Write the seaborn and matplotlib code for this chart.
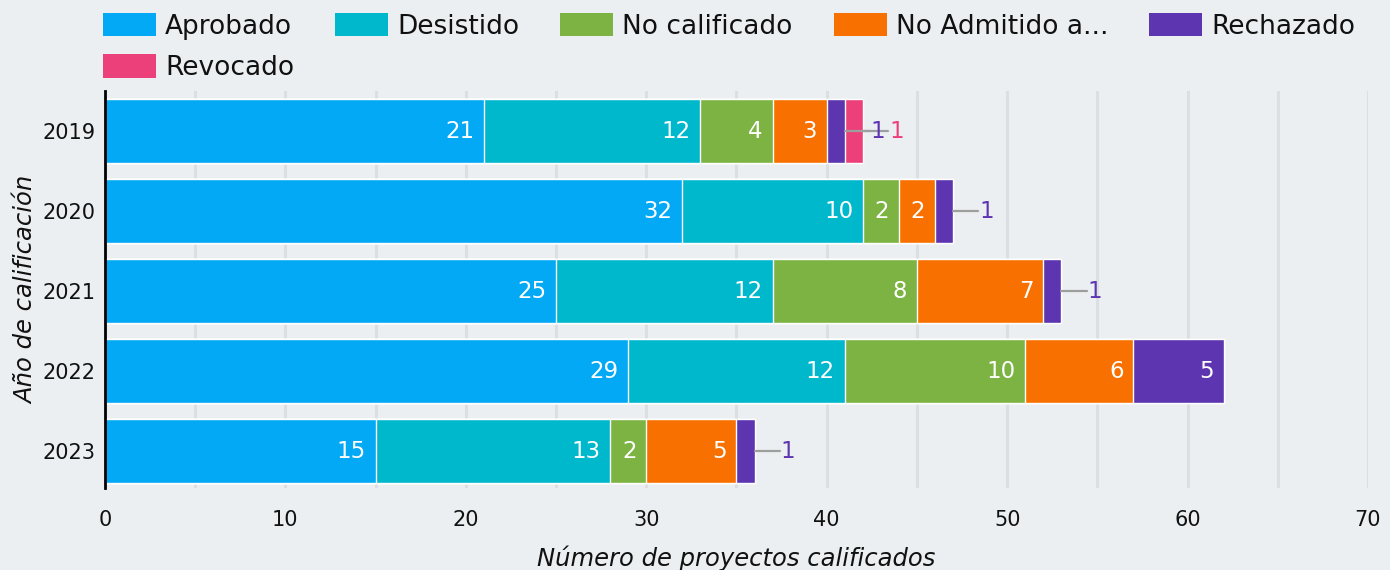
import matplotlib
matplotlib.use("Agg")
import matplotlib.pyplot as plt
from matplotlib.patches import Patch
from matplotlib.ticker import MultipleLocator
import pandas as pd
import seaborn as sns

# datos
years = ["2019", "2020", "2021", "2022", "2023"]
estados = ["Aprobado", "Desistido", "No calificado", "No Admitido a...", "Rechazado", "Revocado"]
aprobado = [21, 32, 25, 29, 15]
desistido = [12, 10, 12, 12, 13]
no_calificado = [4, 2, 8, 10, 2]
no_admitido = [3, 2, 7, 6, 5]
rechazado = [1, 1, 1, 5, 1]
revocado = [1, 0, 0, 0, 0]
colores = ["#03a9f4", "#00b8cc", "#7cb342", "#f77000", "#5e35b1", "#ec407a"]

BG = "#eceff1"
GRID = "#dcdfe2"
TXT = "#111111"
W, H = 1390, 570

sns.set_theme(style="white")
plt.rcParams["font.family"] = ["DejaVu Sans"]

df = pd.DataFrame(dict(zip(estados, [aprobado, desistido, no_calificado,
                                     no_admitido, rechazado, revocado])), index=years)
cum = df.cumsum(axis=1)

fig = plt.figure(figsize=(W / 100, H / 100), dpi=100, facecolor=BG)
ax = fig.add_axes([105 / W, 1 - 488 / H, (1368 - 105) / W, (488 - 91) / H])
ax.set_facecolor(BG)

# barras apiladas: se dibuja primero el acumulado mayor
for est, col in reversed(list(zip(estados, colores))):
    sns.barplot(x=cum[est].values, y=years, orient="y", color=col, saturation=1,
                width=0.8, edgecolor="white", linewidth=1, ax=ax, zorder=3)

# etiquetas
for i, y in enumerate(years):
    left = 0
    for est, col in zip(estados, colores):
        v = int(df.loc[y, est])
        if v == 0:
            continue
        end = left + v
        if v >= 2:
            ax.annotate(str(v), xy=(end, i), xytext=(-7, 0), textcoords="offset points",
                        ha="right", va="center", color="white", fontsize=16.5, zorder=6)
        else:
            ax.plot([end, end + 1.4], [i, i], color="#9e9e9e", lw=1.6, zorder=5)
            ax.text(end + 1.45, i, str(v), color=col, ha="left", va="center",
                    fontsize=16.5, zorder=6)
        left = end

ax.set_xlim(0, 70)
ax.set_ylim(4.46, -0.5)
ax.xaxis.set_major_locator(MultipleLocator(10))
ax.xaxis.set_minor_locator(MultipleLocator(5))
ax.grid(axis="x", which="both", color=GRID, lw=2.2, zorder=0)
ax.set_axisbelow(True)
ax.tick_params(axis="x", which="both", length=8, width=2.2, color=GRID,
               direction="out", labelsize=15, pad=8, labelcolor=TXT)
ax.tick_params(axis="y", length=0, labelsize=15, pad=7, labelcolor=TXT)
for s in ["top", "right", "bottom"]:
    ax.spines[s].set_visible(False)
ax.spines["left"].set_color("black")
ax.spines["left"].set_linewidth(2)
ax.spines["left"].set_zorder(10)

ax.set_xlabel("Número de proyectos calificados", fontsize=17.5, style="italic",
              labelpad=11, color=TXT)
ax.set_ylabel("Año de calificación", fontsize=17.5, style="italic",
              labelpad=3, color=TXT)

# leyenda en filas (orden por columnas para matplotlib)
handles = [Patch(facecolor=c, edgecolor="none") for c in colores]
orden = [0, 5, 1, 2, 3, 4]
fs = 19
fs_px = fs * 100 / 72
fig.legend([handles[k] for k in orden], [estados[k] for k in orden],
           loc="upper left", bbox_to_anchor=(103 / W, 1 - 13 / H), ncol=5,
           frameon=False, fontsize=fs, borderaxespad=0, borderpad=0,
           handlelength=53 / fs_px, handleheight=26 / fs_px, labelcolor=TXT,
           handletextpad=9 / fs_px, columnspacing=41 / fs_px, labelspacing=0.55)

fig.savefig("out.png", dpi=100, facecolor=BG)
